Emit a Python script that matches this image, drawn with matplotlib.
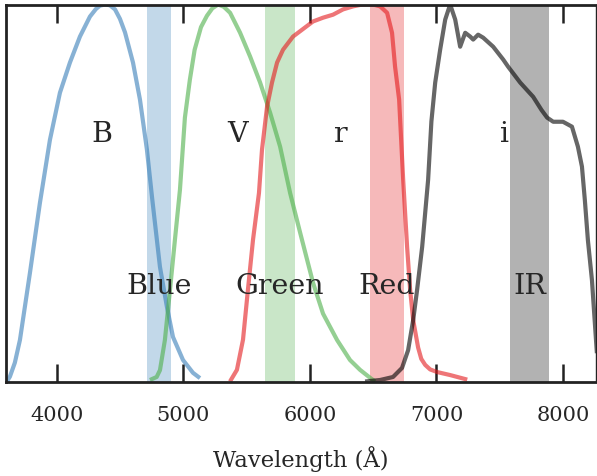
import numpy as np
import matplotlib
matplotlib.use("Agg")
import matplotlib.pyplot as plt

# Curvas de transmision de los filtros
wl_B = [3607, 3631, 3670, 3710, 3789, 3868, 3947, 4026, 4105, 4184, 4263, 4310, 4342, 4382,
        4420, 4461, 4500, 4540, 4603, 4658, 4713, 4753, 4816, 4871, 4919, 4998, 5077, 5132]
tr_B = [0.0, 0.013, 0.05, 0.11, 0.288, 0.474, 0.641, 0.766, 0.846, 0.915, 0.968, 0.988, 0.997, 1.0,
        0.998, 0.987, 0.962, 0.926, 0.846, 0.748, 0.615, 0.49, 0.304, 0.198, 0.118, 0.057, 0.023, 0.009]

wl_V = [4737, 4790, 4816, 4855, 4895, 4934, 4974, 5013, 5052, 5090, 5140, 5187, 5230, 5275, 5320, 5370,
        5449, 5528, 5607, 5686, 5765, 5844, 5923, 6025, 6104, 6215, 6317, 6396, 6475, 6515]
tr_V = [0.004, 0.012, 0.03, 0.11, 0.242, 0.375, 0.509, 0.70, 0.80, 0.88, 0.94, 0.97, 0.99, 1.0, 0.994, 0.978,
        0.925, 0.862, 0.793, 0.713, 0.623, 0.5, 0.395, 0.262, 0.18, 0.11, 0.057, 0.031, 0.01, 0.0]

wl_r = [5369, 5424, 5472, 5511, 5551, 5598, 5622, 5662, 5701, 5741, 5788, 5867,
        5946, 6025, 6104, 6183, 6262, 6341, 6400, 6452, 6510, 6555, 6610, 6649, 6673, 6705,
        6737, 6768, 6792, 6816, 6855, 6880, 6911, 6950, 7006, 7109, 7243]
tr_r = [0.0, 0.031, 0.111, 0.244, 0.376, 0.5, 0.615, 0.729, 0.793, 0.846, 0.88, 0.915,
        0.935, 0.955, 0.965, 0.973, 0.987, 0.995, 0.999, 1.0, 0.999, 0.995, 0.978, 0.925, 0.835, 0.748,
        0.535, 0.357, 0.243, 0.163, 0.09, 0.06, 0.044, 0.032, 0.025, 0.017, 0.005]

wl_i = [6436, 6555, 6657, 6728, 6776, 6816, 6847, 6887, 6934, 6960, 6990, 7029,
        7069, 7108, 7148, 7187, 7227, 7266, 7290, 7329, 7369, 7448, 7527, 7566,
        7661, 7764, 7830, 7874, 7922, 7999, 8070, 8117, 8149, 8172, 8196, 8228, 8251, 8267]
tr_i = [0.0, 0.004, 0.012, 0.036, 0.083, 0.163, 0.243, 0.357, 0.535, 0.69, 0.793, 0.88,
        0.96, 1.0, 0.96, 0.888, 0.925, 0.915, 0.907, 0.92, 0.912, 0.888, 0.854, 0.835,
        0.793, 0.755, 0.72, 0.70, 0.689, 0.689, 0.676, 0.623, 0.57, 0.481, 0.375, 0.269, 0.155, 0.075]

# Bandas (inicio, fin) en Angstrom
bandas = [(4713, 4903), (5645, 5880), (6475, 6741), (7583, 7891)]
nombres_bandas = ["Blue", "Green", "Red", "IR"]
nombres_filtros = ["B", "V", "r", "i"]
pos_filtros = [4358, 5432, 6238, 7541]

colores = ["#377eb8", "#4daf4a", "#e41a1c", "#000000"]

plt.rcParams["font.family"] = ["DejaVu Serif"]
texto = "#262626"

fig = plt.figure(figsize=(5.97, 4.76), dpi=100)
ax = fig.add_axes([6 / 597, 94.5 / 476, 590 / 597, 377 / 476])

curvas = [(wl_B, tr_B), (wl_V, tr_V), (wl_r, tr_r), (wl_i, tr_i)]
for (wl, tr), c in zip(curvas, colores):
    ax.plot(wl, tr, color=c, alpha=0.6, lw=3, solid_capstyle="butt",
            solid_joinstyle="round")

for (a, b), c, nombre in zip(bandas, colores, nombres_bandas):
    ax.axvspan(a, b, color=c, alpha=0.3, lw=0)
    ax.text((a + b) / 2, 0.252, nombre, ha="center", va="center",
            fontsize=20.5, color=texto)

for x, nombre in zip(pos_filtros, nombres_filtros):
    ax.text(x, 0.655, nombre, ha="center", va="center", fontsize=20.5, color=texto)

ax.set_xlim(3600, 8260)
ax.set_ylim(0, 1)
ax.set_yticks([])
ax.set_xticks([4000, 5000, 6000, 7000, 8000])
ax.tick_params(axis="x", direction="in", length=13, width=1.8, top=True,
               labelsize=15, pad=17.5, colors="#222222", labelcolor=texto)
for s in ax.spines.values():
    s.set_linewidth(2.0)
    s.set_color("#222222")
ax.spines["right"].set_linewidth(1.0)

ax.set_xlabel("Wavelength (Å)", fontsize=16.3, color=texto, labelpad=15)

fig.savefig("out.png", dpi=100)
